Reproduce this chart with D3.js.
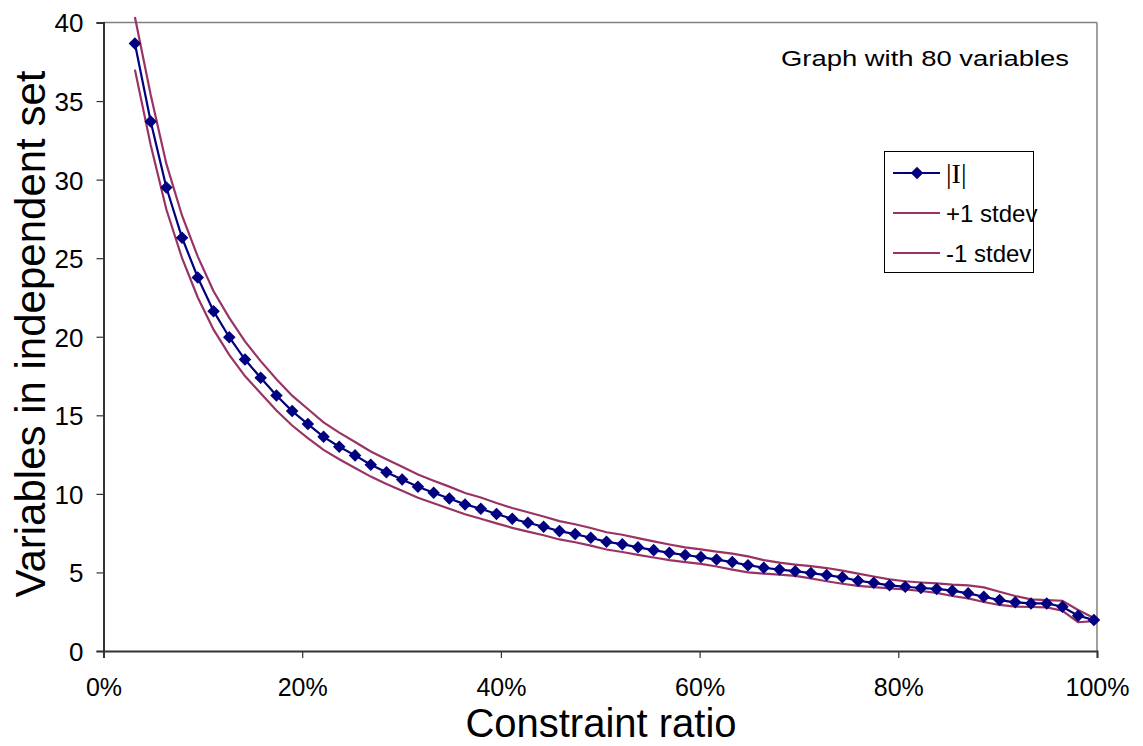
<!DOCTYPE html>
<html>
<head>
<meta charset="utf-8">
<script src="https://cdn.jsdelivr.net/npm/d3@7"></script>
<style>
  html, body { margin: 0; padding: 0; background: #ffffff; }
  svg { display: block; }
</style>
</head>
<body>
<svg id="chart" width="1143" height="746"></svg>
<script>
// ---- Data ----
const ratios = [3.16, 4.75, 6.33, 7.91, 9.49, 11.08, 12.66, 14.24, 15.82, 17.41,
  18.99, 20.57, 22.15, 23.73, 25.32, 26.90, 28.48, 30.06, 31.65, 33.23,
  34.81, 36.39, 37.98, 39.56, 41.14, 42.72, 44.30, 45.89, 47.47, 49.05,
  50.63, 52.22, 53.80, 55.38, 56.96, 58.55, 60.13, 61.71, 63.29, 64.87,
  66.46, 68.04, 69.62, 71.20, 72.79, 74.37, 75.95, 77.53, 79.12, 80.70,
  82.28, 83.86, 85.44, 87.03, 88.61, 90.19, 91.77, 93.36, 94.94, 96.52,
  98.10, 99.69];

const meanI = [38.66, 33.7, 29.5, 26.3, 23.77, 21.63, 19.97, 18.55, 17.39, 16.26,
  15.27, 14.44, 13.63, 13.0, 12.45, 11.85, 11.37, 10.92, 10.45, 10.07,
  9.71, 9.33, 9.05, 8.72, 8.42, 8.16, 7.91, 7.63, 7.44, 7.21,
  6.95, 6.80, 6.60, 6.42, 6.25, 6.11, 5.98, 5.82, 5.66, 5.46,
  5.30, 5.18, 5.08, 4.96, 4.83, 4.69, 4.47, 4.34, 4.18, 4.09,
  4.01, 3.95, 3.84, 3.67, 3.45, 3.24, 3.10, 3.03, 3.03, 2.82,
  2.25, 1.97];

const plusSd = [40.35, 35.4, 31.0, 27.7, 25.1, 22.9, 21.2, 19.7, 18.45, 17.3,
  16.25, 15.4, 14.55, 13.9, 13.3, 12.7, 12.2, 11.72, 11.23, 10.84,
  10.46, 10.06, 9.77, 9.42, 9.1, 8.83, 8.56, 8.27, 8.07, 7.83,
  7.56, 7.4, 7.18, 6.98, 6.78, 6.6, 6.47, 6.32, 6.2, 6.02,
  5.78, 5.62, 5.5, 5.4, 5.28, 5.12, 4.92, 4.74, 4.56, 4.44,
  4.36, 4.3, 4.22, 4.18, 4.05, 3.77, 3.5, 3.29, 3.24, 3.2,
  2.61, 2.1];

const minusSd = [37.0, 32.2, 28.1, 25.0, 22.5, 20.45, 18.85, 17.5, 16.4, 15.3,
  14.35, 13.55, 12.8, 12.2, 11.65, 11.1, 10.63, 10.2, 9.75, 9.4,
  9.05, 8.7, 8.42, 8.12, 7.84, 7.6, 7.37, 7.1, 6.92, 6.71,
  6.46, 6.3, 6.12, 5.95, 5.78, 5.66, 5.55, 5.38, 5.18, 5.0,
  4.92, 4.86, 4.78, 4.62, 4.44, 4.28, 4.15, 4.06, 3.98, 3.92,
  3.82, 3.7, 3.5, 3.35, 3.12, 2.93, 2.82, 2.8, 2.78, 2.56,
  1.83, 1.9];

const xTicks = [0, 20, 40, 60, 80, 100];
const yTicks = [0, 5, 10, 15, 20, 25, 30, 35, 40];
const seriesNames = ["|I|", "+1 stdev", "-1 stdev"];
const annotation = "Graph with 80 variables";
const xTitle = "Constraint ratio";
const yTitle = "Variables in independent set";

// ---- Layout ----
const svg = d3.select("#chart");
const L = 103.5, R = 1097, T = 22.5, B = 651;
const navy = "#000080", plum = "#993366";
const sans = "'Liberation Sans', Arial, sans-serif";

const x = d3.scaleLinear().domain([0, 100]).range([L, R]);
const y = d3.scaleLinear().domain([0, 40]).range([B, T]);

// plot frame (top/right grey)
svg.append("line").attr("x1", L).attr("x2", R).attr("y1", T).attr("y2", T)
  .attr("stroke", "#808080").attr("stroke-width", 1.5);
svg.append("line").attr("x1", R).attr("x2", R).attr("y1", T).attr("y2", B)
  .attr("stroke", "#808080").attr("stroke-width", 1.5);

// axes
const yAxis = d3.axisLeft(y).tickValues(yTicks).tickSize(7).tickPadding(13)
  .tickFormat(d3.format("d"));
const gy = svg.append("g").attr("transform", `translate(${L},0)`).call(yAxis);
const xAxis = d3.axisBottom(x).tickValues(xTicks).tickSize(7).tickPadding(20)
  .tickFormat(d => d + "%");
const gx = svg.append("g").attr("transform", `translate(0,${B})`).call(xAxis);

[gx, gy].forEach(g => {
  g.select(".domain").attr("stroke", "#333333").attr("stroke-width", 2);
  g.selectAll(".tick line").attr("stroke", "#333333").attr("stroke-width", 1.2);
  g.selectAll(".tick text").attr("font-family", sans).attr("font-size", 25)
    .attr("fill", "#000");
});
gy.selectAll(".tick text").attr("dy", "0.36em").attr("font-size", 26);

// series
const pts = arr => ratios.map((r, i) => [r, arr[i]]);
const line = d3.line().x(d => x(d[0])).y(d => y(d[1]));

svg.append("path").datum(pts(plusSd)).attr("d", line)
  .attr("fill", "none").attr("stroke", plum).attr("stroke-width", 2.2);
svg.append("path").datum(pts(minusSd)).attr("d", line)
  .attr("fill", "none").attr("stroke", plum).attr("stroke-width", 2.2);
svg.append("path").datum(pts(meanI)).attr("d", line)
  .attr("fill", "none").attr("stroke", navy).attr("stroke-width", 2.2);

const diamond = d3.symbol().type(d3.symbolDiamond2).size(100);
svg.append("g").selectAll("path").data(pts(meanI)).join("path")
  .attr("d", diamond)
  .attr("transform", d => `translate(${x(d[0])},${y(d[1])})`)
  .attr("fill", navy);

// annotation
svg.append("text").attr("x", 925).attr("y", 66).attr("text-anchor", "middle")
  .attr("font-family", sans).attr("font-size", 22)
  .attr("textLength", 288).attr("lengthAdjust", "spacingAndGlyphs").text(annotation);

// legend
const lg = svg.append("g");
lg.append("rect").attr("x", 884.5).attr("y", 151.5).attr("width", 149).attr("height", 121)
  .attr("fill", "#fff").attr("stroke", "#000").attr("stroke-width", 1);
const rows = [173, 213, 253];
rows.forEach((ry, i) => {
  lg.append("line").attr("x1", 893).attr("x2", 940).attr("y1", ry).attr("y2", ry)
    .attr("stroke", i === 0 ? navy : plum).attr("stroke-width", 2.2);
  if (i === 0) {
    lg.append("path").attr("d", diamond)
      .attr("transform", `translate(917,${ry})`).attr("fill", navy);
  }
  lg.append("text").attr("x", 946).attr("y", ry).attr("dy", "0.36em")
    .attr("font-family", i === 0 ? "'Liberation Serif', 'Times New Roman', serif" : sans)
    .attr("font-size", i === 0 ? 28 : 24).text(seriesNames[i]);
});

// titles
svg.append("text").attr("x", 601).attr("y", 737).attr("text-anchor", "middle")
  .attr("font-family", sans).attr("font-size", 40).text(xTitle);
svg.append("text").attr("transform", "translate(45,334) rotate(-90)")
  .attr("text-anchor", "middle")
  .attr("font-family", sans).attr("font-size", 42).text(yTitle);
</script>
</body>
</html>
